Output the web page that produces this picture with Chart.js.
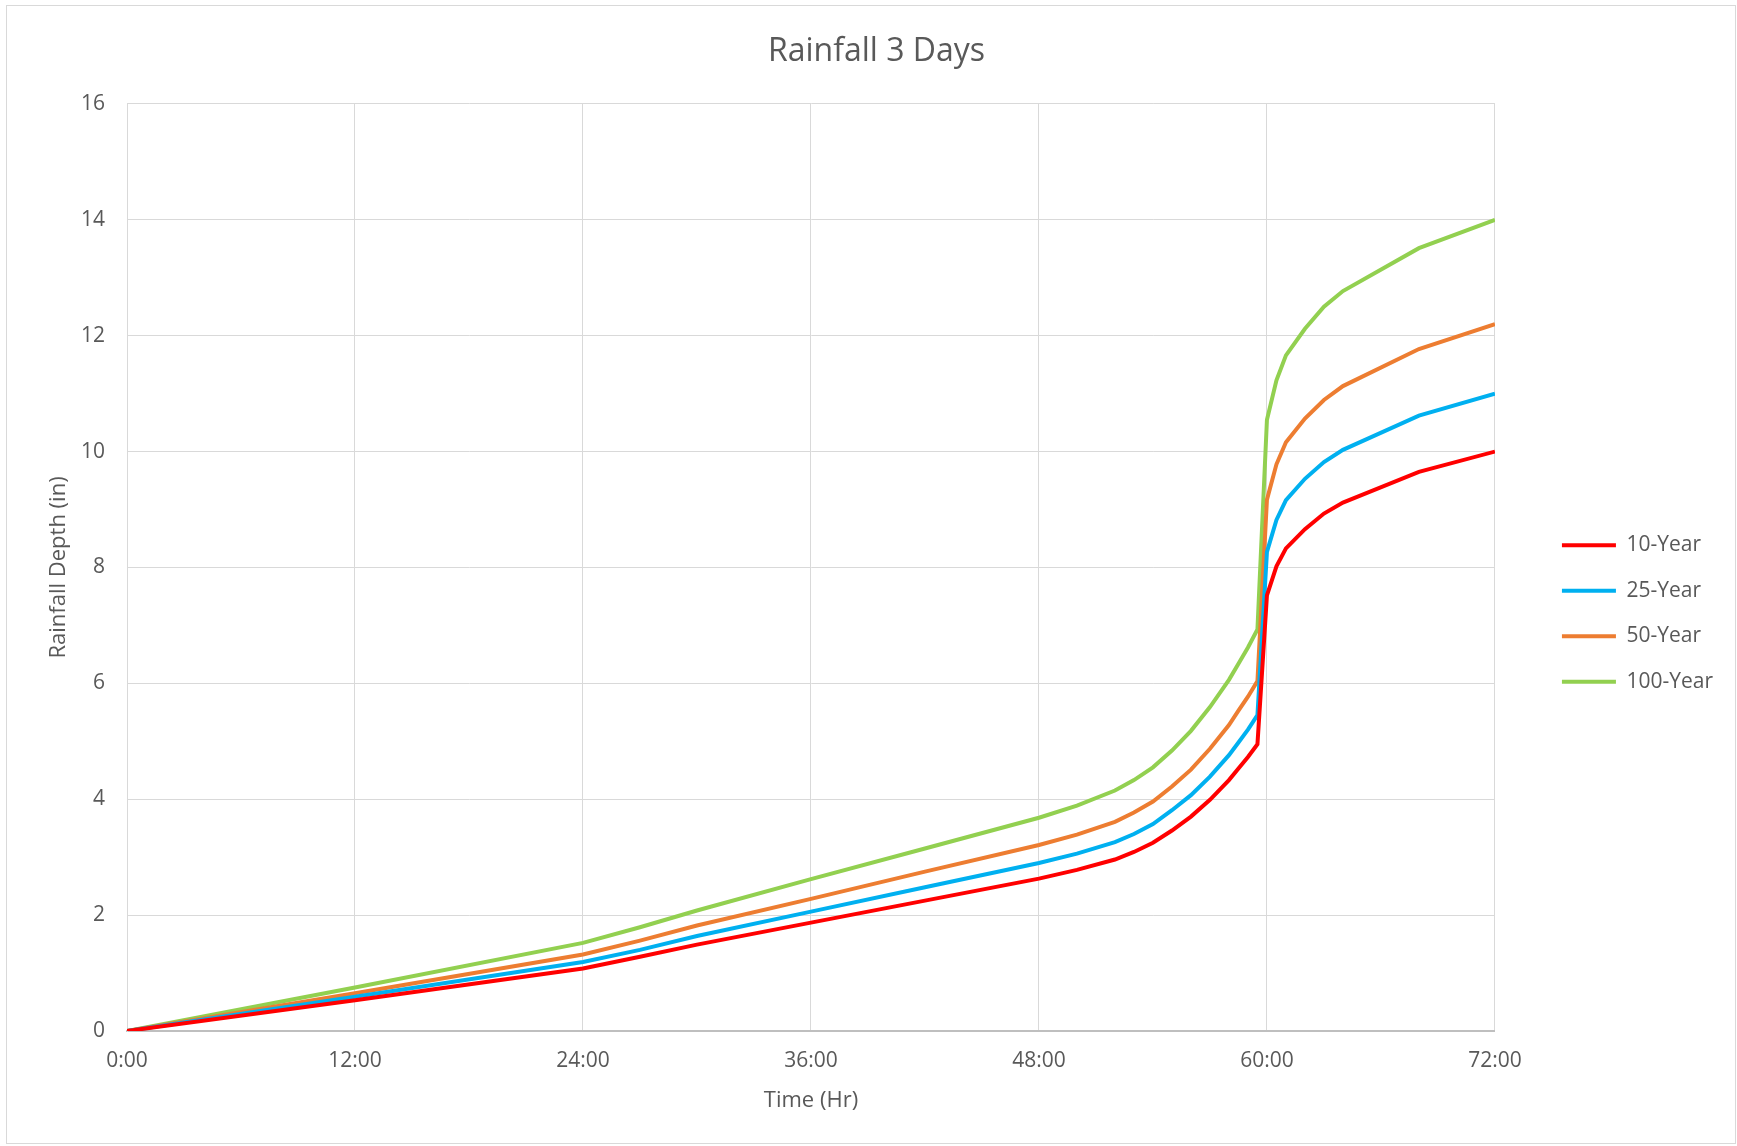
<!DOCTYPE html>
<html>
<head>
<meta charset="utf-8">
<script src="https://cdn.jsdelivr.net/npm/chart.js@4.4.0/dist/chart.umd.min.js"></script>
<style>
  html, body { margin: 0; padding: 0; background: #fff; }
  #wrap { position: relative; width: 1737px; height: 1146px; }
  #frame { position: absolute; left: 6px; top: 5px; width: 1728px; height: 1137px; border: 1px solid #d9d9d9; pointer-events: none; }
</style>
</head>
<body>
<div id="wrap">
  <canvas id="canvas" width="1737" height="1146"></canvas>
  <div id="frame"></div>
</div>
<script>
// time in hours
var hours = [0, 12, 24, 27, 30, 36, 42, 48, 50, 52, 53, 54, 55, 56, 57, 58, 58.5, 59, 59.5, 60, 60.5, 61, 62, 63, 64, 68, 72];
var year10  = [0, 0.53, 1.08, 1.28, 1.49, 1.87, 2.25, 2.63, 2.78, 2.96, 3.09, 3.25, 3.46, 3.70, 3.99, 4.33, 4.53, 4.73, 4.95, 7.52, 8.02, 8.33, 8.66, 8.93, 9.12, 9.65, 10.0];
var year25  = [0, 0.59, 1.19, 1.40, 1.64, 2.06, 2.48, 2.90, 3.06, 3.26, 3.40, 3.57, 3.81, 4.07, 4.39, 4.76, 4.98, 5.20, 5.45, 8.27, 8.82, 9.16, 9.53, 9.82, 10.03, 10.62, 11.0];
var year50  = [0, 0.65, 1.32, 1.56, 1.82, 2.28, 2.75, 3.21, 3.39, 3.61, 3.77, 3.96, 4.22, 4.51, 4.87, 5.28, 5.53, 5.77, 6.04, 9.17, 9.78, 10.16, 10.57, 10.89, 11.13, 11.77, 12.2];
var year100 = [0, 0.75, 1.52, 1.79, 2.08, 2.62, 3.15, 3.68, 3.89, 4.15, 4.33, 4.55, 4.84, 5.18, 5.59, 6.06, 6.34, 6.62, 6.93, 10.55, 11.23, 11.66, 12.12, 12.5, 12.77, 13.51, 14.0];
var seriesNames = ['10-Year', '25-Year', '50-Year', '100-Year'];
var seriesColors = ['#ff0000', '#00b0f0', '#ed7d31', '#92d050'];

function pts(vals) {
  return vals.map(function(v, i) { return {x: hours[i], y: v}; });
}

var txt = '#595959';
var fam = '"Open Sans", sans-serif';
var allSeries = [year10, year25, year50, year100];
var datasets = allSeries.map(function(s, i) {
  return {
    label: seriesNames[i],
    data: pts(s),
    borderColor: seriesColors[i],
    backgroundColor: seriesColors[i],
    borderWidth: 4,
    pointRadius: 0,
    tension: 0,
    fill: false
  };
});

var ctx = document.getElementById('canvas').getContext('2d');
var myChart = new Chart(ctx, {
  type: 'line',
  data: { datasets: datasets },
  options: {
    responsive: false,
    animation: false,
    layout: { padding: { top: 20, left: 30, right: 14, bottom: 28 } },
    plugins: {
      title: {
        display: true,
        text: 'Rainfall 3 Days',
        color: txt,
        font: { family: fam, size: 32, weight: 'normal' },
        padding: { top: 13, bottom: 32.5 }
      },
      legend: {
        position: 'right',
        fullSize: false,
        title: { display: true, text: '', font: { size: 10 }, padding: { top: 80, bottom: 0 } },
        labels: {
          usePointStyle: true,
          pointStyle: 'line',
          pointStyleWidth: 54,
          padding: 24.5,
          color: txt,
          font: { family: fam, size: 21 }
        }
      },
      tooltip: { enabled: false }
    },
    scales: {
      x: {
        type: 'linear',
        min: 0,
        max: 72,
        afterFit: function(scale) { scale.height = 87; },
        ticks: {
          stepSize: 12,
          color: txt,
          padding: 17,
          font: { family: fam, size: 21 },
          callback: function(v) { return v + ':00'; }
        },
        grid: { color: '#d9d9d9', lineWidth: 1, drawTicks: false },
        border: { color: '#bfbfbf', width: 2 },
        title: { display: true, text: 'Time (Hr)', color: txt, font: { family: fam, size: 22 }, padding: { top: 13, bottom: 4 } }
      },
      y: {
        min: 0,
        max: 16,
        afterFit: function(scale) { scale.width = 97; },
        ticks: { stepSize: 2, color: txt, padding: 22, font: { family: fam, size: 21 } },
        grid: { color: '#d9d9d9', lineWidth: 1, drawTicks: false },
        border: { color: '#d9d9d9', width: 1 },
        title: { display: true, text: 'Rainfall Depth (in)', color: txt, font: { family: fam, size: 22 }, padding: { top: 16, bottom: 9 } }
      },
      gap: {
        position: 'right',
        display: true,
        ticks: { display: false },
        grid: { display: false, drawTicks: false },
        border: { display: false },
        afterFit: function(scale) { scale.width = 42.5; }
      }
    }
  }
});
</script>
</body>
</html>
